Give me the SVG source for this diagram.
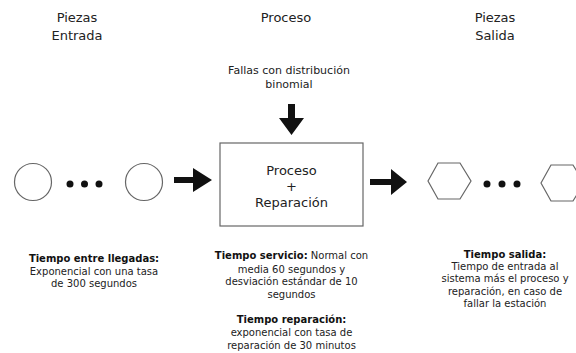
<svg xmlns="http://www.w3.org/2000/svg" width="576" height="353" viewBox="0 0 576 353">
<style>
text{font-family:"DejaVu Sans",Verdana,sans-serif;fill:#222;text-anchor:middle}
.h{font-size:13px}
.s{font-size:10px}
.b{font-weight:bold;fill:#111}
.shape{fill:#fff;stroke:#666;stroke-width:1.2}
.dot{fill:#111}
.arr{fill:#111}
</style>
<rect width="576" height="353" fill="#fff"/>
<g id="headers">
<text class="h" x="77" y="22">Piezas</text>
<text class="h" x="77" y="40">Entrada</text>
<text class="h" x="286" y="22">Proceso</text>
<text class="h" x="495" y="22">Piezas</text>
<text class="h" x="495" y="40">Salida</text>
</g>
<g id="fallas">
<text class="s" x="289" y="74" style="font-size:11px">Fallas con distribución</text>
<text class="s" x="289" y="88" style="font-size:11px">binomial</text>
</g>
<g id="entrada">
<circle class="shape" cx="33" cy="182" r="18.5"/>
<circle class="dot" cx="70" cy="184" r="3.5"/>
<circle class="dot" cx="84.5" cy="184" r="3.5"/>
<circle class="dot" cx="99" cy="184" r="3.5"/>
<circle class="shape" cx="144" cy="182" r="18.5"/>
</g>
<g id="proceso">
<rect class="shape" x="220" y="143" width="143" height="83"/>
<text class="h" x="291.5" y="175">Proceso</text>
<text class="h" x="291.5" y="191">+</text>
<text class="h" x="291.5" y="207">Reparación</text>
</g>
<g id="salida">
<polygon class="shape" points="428,181 438,163 460,163 471,181 460,199 438,199"/>
<circle class="dot" cx="487" cy="184" r="3.5"/>
<circle class="dot" cx="502" cy="184" r="3.5"/>
<circle class="dot" cx="517" cy="184" r="3.5"/>
<polygon class="shape" points="541,183 551,165 573,165 584,183 573,201 551,201"/>
</g>
<g id="connectors">
<polygon class="arr" points="174,177 193,177 193,168 212,180 193,192 193,183 174,183"/>
<polygon class="arr" points="370,179 391,179 391,169 407,182 391,195 391,185 370,185"/>
<polygon class="arr" points="288,104 295,104 295,118 304,118 291.5,135 279,118 288,118"/>
</g>
<g id="desc-entrada">
<text class="s b" x="94" y="262">Tiempo entre llegadas:</text>
<text class="s" x="94" y="275">Exponencial con una tasa</text>
<text class="s" x="94" y="287">de 300 segundos</text>
</g>
<g id="desc-proceso">
<text class="s" x="291.5" y="259"><tspan class="b">Tiempo servicio:</tspan> Normal con</text>
<text class="s" x="291.5" y="273">media 60 segundos y</text>
<text class="s" x="291.5" y="285">desviación estándar de 10</text>
<text class="s" x="291.5" y="298">segundos</text>
<text class="s b" x="291.5" y="323">Tiempo reparación:</text>
<text class="s" x="291.5" y="336">exponencial con tasa de</text>
<text class="s" x="291.5" y="349">reparación de 30 minutos</text>
</g>
<g id="desc-salida">
<text class="s b" x="505" y="258">Tiempo salida:</text>
<text class="s" x="505" y="270">Tiempo de entrada al</text>
<text class="s" x="505" y="282">sistema más el proceso y</text>
<text class="s" x="505" y="295">reparación, en caso de</text>
<text class="s" x="505" y="307">fallar la estación</text>
</g>
</svg>
